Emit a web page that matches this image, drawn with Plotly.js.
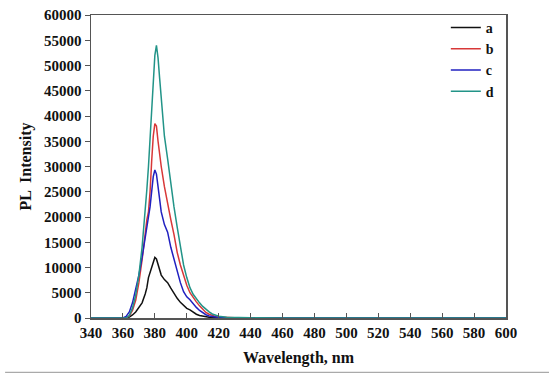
<!DOCTYPE html>
<html>
<head>
<meta charset="utf-8">
<script src="https://cdn.plot.ly/plotly-3.0.1.min.js"></script>
<style>html,body{margin:0;padding:0;background:#fff;}#chart{width:549px;height:373px;}</style>
</head>
<body>
<div id="chart"></div>
<script>
const wavelength = [340, 350, 358, 360, 362, 364, 366, 368, 370, 372, 374, 375, 376, 377, 378, 379, 380, 381, 382, 383, 384, 386, 388, 390, 392, 394, 396, 398, 400, 402, 404, 406, 408, 410, 412, 414, 416, 418, 420, 425, 430, 440, 460, 500, 550, 600];

const seriesA = [0, 0, 0, 0, 0, 200, 600, 1200, 2000, 3000, 4800, 6000, 8000, 9000, 10000, 11300, 12000, 11700, 10500, 9500, 8500, 7600, 7000, 5900, 4800, 3900, 3100, 2400, 1900, 1600, 1100, 750, 500, 350, 250, 150, 100, 60, 40, 20, 10, 0, 0, 0, 0, 0];
const seriesB = [0, 0, 0, 0, 0, 400, 1500, 3500, 7000, 11500, 17000, 19500, 21000, 25000, 31000, 36000, 38500, 38000, 35000, 32000, 30000, 26000, 22500, 19500, 16500, 13000, 10500, 8300, 6500, 5000, 4000, 3200, 2400, 1700, 1100, 750, 500, 320, 200, 100, 50, 20, 0, 0, 0, 0];
const seriesC = [0, 0, 0, 0, 300, 1200, 3000, 5500, 8500, 12000, 16500, 18500, 20000, 22000, 25000, 28000, 29300, 28500, 26000, 23000, 21000, 18500, 17000, 14000, 11500, 9000, 7000, 5200, 4200, 3600, 2800, 2100, 1500, 1000, 650, 400, 250, 150, 100, 50, 20, 0, 0, 0, 0, 0];
const seriesD = [0, 0, 0, 0, 0, 500, 2000, 4500, 8500, 14000, 21000, 25500, 30000, 35000, 41000, 47000, 52000, 54000, 51500, 47500, 43000, 36000, 31500, 26500, 22000, 18000, 14000, 10500, 8000, 6000, 4700, 3800, 3000, 2300, 1700, 1200, 800, 500, 350, 150, 80, 30, 0, 0, 0, 0];

const seriesNames = ['a', 'b', 'c', 'd'];
const seriesColors = ['#111111', '#d83838', '#2020c0', '#229488'];
const seriesData = [seriesA, seriesB, seriesC, seriesD];

const xTicks = [340, 360, 380, 400, 420, 440, 460, 480, 500, 520, 540, 560, 580, 600];
const yTicks = [0, 5000, 10000, 15000, 20000, 25000, 30000, 35000, 40000, 45000, 50000, 55000, 60000];

const traces = seriesData.map((ys, i) => ({
  x: wavelength, y: ys, type: 'scatter', mode: 'lines', name: seriesNames[i],
  line: {color: seriesColors[i], width: 1.5}
}));

const serif = 'Liberation Serif, Times New Roman, serif';
const layout = {
  width: 549, height: 373,
  margin: {l: 91, r: 43, t: 15, b: 55},
  paper_bgcolor: '#fff', plot_bgcolor: '#fff',
  showlegend: true,
  legend: {x: 0.855, xanchor: 'left', y: 1.01, yanchor: 'top', bgcolor: 'rgba(0,0,0,0)',
           font: {family: serif, size: 14, color: '#111', weight: 'bold'}, tracegroupgap: 0},
  xaxis: {
    range: [340, 600], tickvals: xTicks, ticktext: xTicks.map(String),
    ticks: 'inside', ticklen: 5, tickcolor: '#555', showgrid: false, zeroline: false,
    showline: true, linecolor: '#555', linewidth: 1.5, mirror: true,
    tickfont: {family: serif, size: 15, color: '#111', weight: 'bold'},
    title: {text: 'Wavelength, nm', font: {family: serif, size: 16, color: '#111', weight: 'bold'}, standoff: 12}
  },
  yaxis: {
    range: [0, 60000], tickvals: yTicks, ticktext: yTicks.map(String),
    ticks: 'outside', ticklen: 5, tickcolor: '#555', showgrid: false, zeroline: false,
    showline: true, linecolor: '#555', linewidth: 1.5, mirror: true,
    tickfont: {family: serif, size: 15, color: '#111', weight: 'bold'},
    title: {text: 'PL  Intensity', font: {family: serif, size: 16, color: '#111', weight: 'bold'}, standoff: 8}
  },
  shapes: [{type: 'line', xref: 'paper', yref: 'paper', x0: -0.207, x1: 1.104, y0: -0.18, y1: -0.18,
            line: {color: '#aaa', width: 1.5}}]
};

Plotly.newPlot('chart', traces, layout, {displayModeBar: false, staticPlot: true});
</script>
</body>
</html>
